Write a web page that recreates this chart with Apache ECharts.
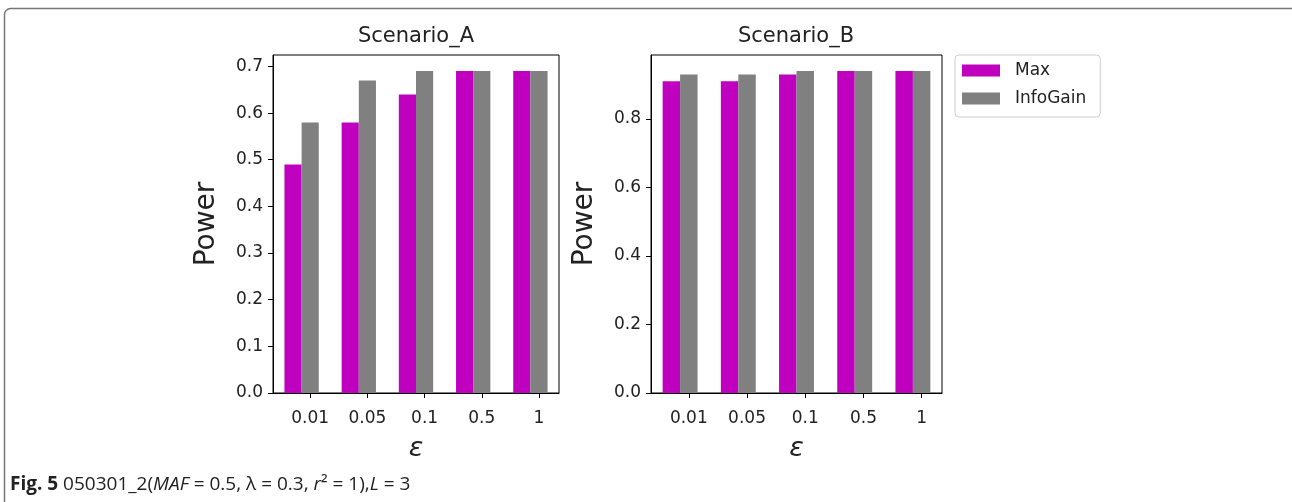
<!DOCTYPE html>
<html>
<head>
<meta charset="utf-8">
<script src="https://cdn.jsdelivr.net/npm/echarts@6/dist/echarts.min.js"></script>
<style>
html, body { margin: 0; padding: 0; background: #fff; }
#chart-container { width: 1292px; height: 502px; }
</style>
</head>
<body>
<div id="chart-container"></div>
<script>
// data
var epsilons = ['0.01', '0.05', '0.1', '0.5', '1'];
var maxA = [0.49, 0.58, 0.64, 0.69, 0.69];
var infoGainA = [0.58, 0.67, 0.69, 0.69, 0.69];
var maxB = [0.91, 0.91, 0.93, 0.94, 0.94];
var infoGainB = [0.93, 0.93, 0.94, 0.94, 0.94];
var yTicksA = [0, 0.1, 0.2, 0.3, 0.4, 0.5, 0.6, 0.7];
var yTicksB = [0, 0.2, 0.4, 0.6, 0.8];

var chartDom = document.getElementById('chart-container');
var myChart = echarts.init(chartDom);

var font = 'DejaVu Sans';
var ink = '#222';
var magenta = '#bf00bf';
var grey = '#808080';
// tick positions sit on the InfoGain bar of each group
var xTickPos = epsilons.map(function (e, i) { return i; });

function barAxis(grid) {
  return {
    type: 'category',
    gridIndex: grid,
    data: epsilons,
    position: 'bottom',
    axisLine: { show: false, onZero: false },
    axisTick: { show: false },
    axisLabel: { show: false }
  };
}

function tickAxis(grid) {
  return {
    type: 'value',
    gridIndex: grid,
    position: 'bottom',
    min: -0.65,
    max: 4.35,
    splitLine: { show: false },
    axisLine: { show: true, onZero: false, lineStyle: { color: '#000', width: 1 } },
    axisTick: { show: true, length: 5, customValues: xTickPos, lineStyle: { color: '#000' } },
    axisLabel: {
      customValues: xTickPos,
      margin: 17,
      fontSize: 17,
      fontFamily: font,
      color: ink,
      formatter: function (v) { return epsilons[Math.round(v)]; }
    },
    name: 'ε',
    nameLocation: 'middle',
    nameGap: 42,
    nameTextStyle: { fontSize: 27, fontStyle: 'italic', fontFamily: font, color: ink }
  };
}

function yAxis(grid, max, ticks) {
  return {
    type: 'value',
    gridIndex: grid,
    min: 0,
    max: max,
    splitLine: { show: false },
    axisLine: { show: true, onZero: false, lineStyle: { color: '#000', width: 1 } },
    axisTick: { show: true, length: 5, customValues: ticks, lineStyle: { color: '#000' } },
    axisLabel: {
      customValues: ticks,
      margin: 10,
      fontSize: 17,
      fontFamily: font,
      color: ink,
      formatter: function (v) { return v.toFixed(1); }
    },
    name: 'Power',
    nameLocation: 'middle',
    nameGap: 52,
    nameTextStyle: { fontSize: 28, fontFamily: font, color: ink }
  };
}

function bars(name, values, grid, color) {
  return {
    name: name,
    type: 'bar',
    xAxisIndex: grid * 2,
    yAxisIndex: grid,
    data: values,
    barWidth: '30%',
    barGap: '0%',
    itemStyle: { color: color },
    emphasis: { disabled: true }
  };
}

option = {
  animation: false,
  grid: [
    { left: 273, top: 55, width: 286, height: 338, show: true, borderColor: '#000', borderWidth: 1 },
    { left: 651, top: 55, width: 291, height: 338, show: true, borderColor: '#000', borderWidth: 1 }
  ],
  xAxis: [barAxis(0), tickAxis(0), barAxis(1), tickAxis(1)],
  yAxis: [yAxis(0, 0.7245, yTicksA), yAxis(1, 0.987, yTicksB)],
  legend: {
    orient: 'vertical',
    left: 955,
    top: 55,
    data: ['Max', 'InfoGain'],
    icon: 'rect',
    itemWidth: 38,
    itemHeight: 12,
    itemGap: 11,
    padding: [7, 14, 10, 7],
    borderColor: '#ccc',
    borderWidth: 1,
    borderRadius: 4,
    textStyle: { fontSize: 17, fontFamily: font, color: ink, padding: [0, 0, 0, 10] }
  },
  graphic: [
    {
      type: 'rect',
      silent: true,
      z: -1,
      shape: { x: 4.5, y: 8.5, width: 1300, height: 600, r: 6 },
      style: { fill: 'none', stroke: '#777', lineWidth: 1.5 }
    },
    {
      type: 'text', x: 416, y: 37,
      style: { text: 'Scenario_A', fontSize: 21, fontFamily: font, fill: ink,
        align: 'center', verticalAlign: 'middle', textAlign: 'center', textVerticalAlign: 'middle' }
    },
    {
      type: 'text', x: 796, y: 37,
      style: { text: 'Scenario_B', fontSize: 21, fontFamily: font, fill: ink,
        align: 'center', verticalAlign: 'middle', textAlign: 'center', textVerticalAlign: 'middle' }
    },
    {
      type: 'text', x: 10, y: 485,
      style: {
        text: '{b|Fig. 5} 050301_2({i|MAF} = 0.5, λ = 0.3, {i|r}² = 1),{i|L} = 3',
        fontSize: 19, fontFamily: 'Open Sans', fill: ink,
        verticalAlign: 'middle', textVerticalAlign: 'middle',
        rich: {
          b: { fontSize: 19, fontFamily: 'Open Sans', fontWeight: 'bold', fill: ink },
          i: { fontSize: 19, fontFamily: 'Open Sans', fontStyle: 'italic', fill: ink }
        }
      }
    }
  ],
  series: [
    bars('Max', maxA, 0, magenta),
    bars('InfoGain', infoGainA, 0, grey),
    bars('Max', maxB, 1, magenta),
    bars('InfoGain', infoGainB, 1, grey)
  ]
};

option && myChart.setOption(option);
</script>
</body>
</html>
